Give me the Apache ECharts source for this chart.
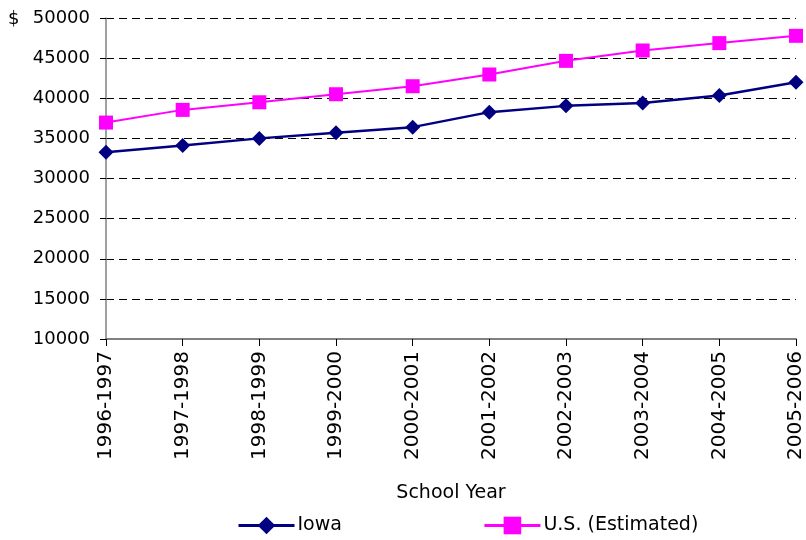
<!DOCTYPE html>
<html><head><meta charset="utf-8">
<script src="https://cdn.jsdelivr.net/npm/echarts@6/dist/echarts.min.js"></script>
<style>html,body{margin:0;padding:0;background:#fff}#c{width:806px;height:540px}</style>
</head><body><div id="c"></div>
<script>
var categories = ['1996-1997','1997-1998','1998-1999','1999-2000','2000-2001','2001-2002','2002-2003','2003-2004','2004-2005','2005-2006'];
var iowa = [33280, 34100, 35000, 35700, 36400, 38270, 39050, 39400, 40340, 42000];
var us = [36970, 38550, 39500, 40500, 41500, 42960, 44660, 45950, 46870, 47780];
var yTicks = {min: 10000, max: 50000, interval: 5000};
var FONT = 'DejaVu Sans';
var chart = echarts.init(document.getElementById('c'), null, {renderer: 'canvas'});
chart.setOption({
  animation: false,
  backgroundColor: '#fff',
  textStyle: {fontFamily: FONT, color: '#000'},
  title: {text: '$', left: 3, top: 5, textStyle: {fontFamily: FONT, fontSize: 18, fontWeight: 'normal', color: '#000'}},
  grid: {left: 106, right: 6, top: 18, bottom: 201, containLabel: false},
  legend: {
    top: 516, left: 237, padding: 0, itemWidth: 56, itemHeight: 22, itemGap: 141,
    textStyle: {fontFamily: FONT, fontSize: 19, color: '#000', padding: [0, 0, 0, -2]},
    data: [
      {name: 'Iowa', lineStyle: {width: 3}},
      {name: 'U.S. (Estimated)', lineStyle: {width: 3}}
    ]
  },
  xAxis: {
    type: 'category', data: categories, boundaryGap: false,
    name: 'School Year', nameLocation: 'middle', nameGap: 145,
    nameTextStyle: {fontFamily: FONT, fontSize: 19, color: '#000'},
    axisLine: {lineStyle: {color: '#808080', width: 2}},
    axisTick: {show: true, length: 7, lineStyle: {color: '#000'}},
    axisLabel: {rotate: 90, margin: 12, fontFamily: FONT, fontSize: 20, color: '#000', interval: 0},
    splitLine: {show: false}
  },
  yAxis: {
    type: 'value', min: yTicks.min, max: yTicks.max, interval: yTicks.interval,
    axisLine: {show: true, lineStyle: {color: '#808080', width: 1.5}},
    axisTick: {show: true, length: 6, lineStyle: {color: '#000'}},
    axisLabel: {margin: 16, fontFamily: FONT, fontSize: 18, color: '#000', formatter: function (v) { return String(v); }},
    splitLine: {show: true, lineStyle: {color: '#000', type: [8, 5], width: 1}}
  },
  series: [
    {name: 'Iowa', type: 'line', data: iowa, symbol: 'diamond', symbolSize: 15,
      lineStyle: {color: '#000080', width: 2.5}, itemStyle: {color: '#000080'}, z: 3},
    {name: 'U.S. (Estimated)', type: 'line', data: us, symbol: 'rect', symbolSize: 14,
      lineStyle: {color: '#FF00FF', width: 2}, itemStyle: {color: '#FF00FF'}, z: 2}
  ]
});
</script></body></html>
